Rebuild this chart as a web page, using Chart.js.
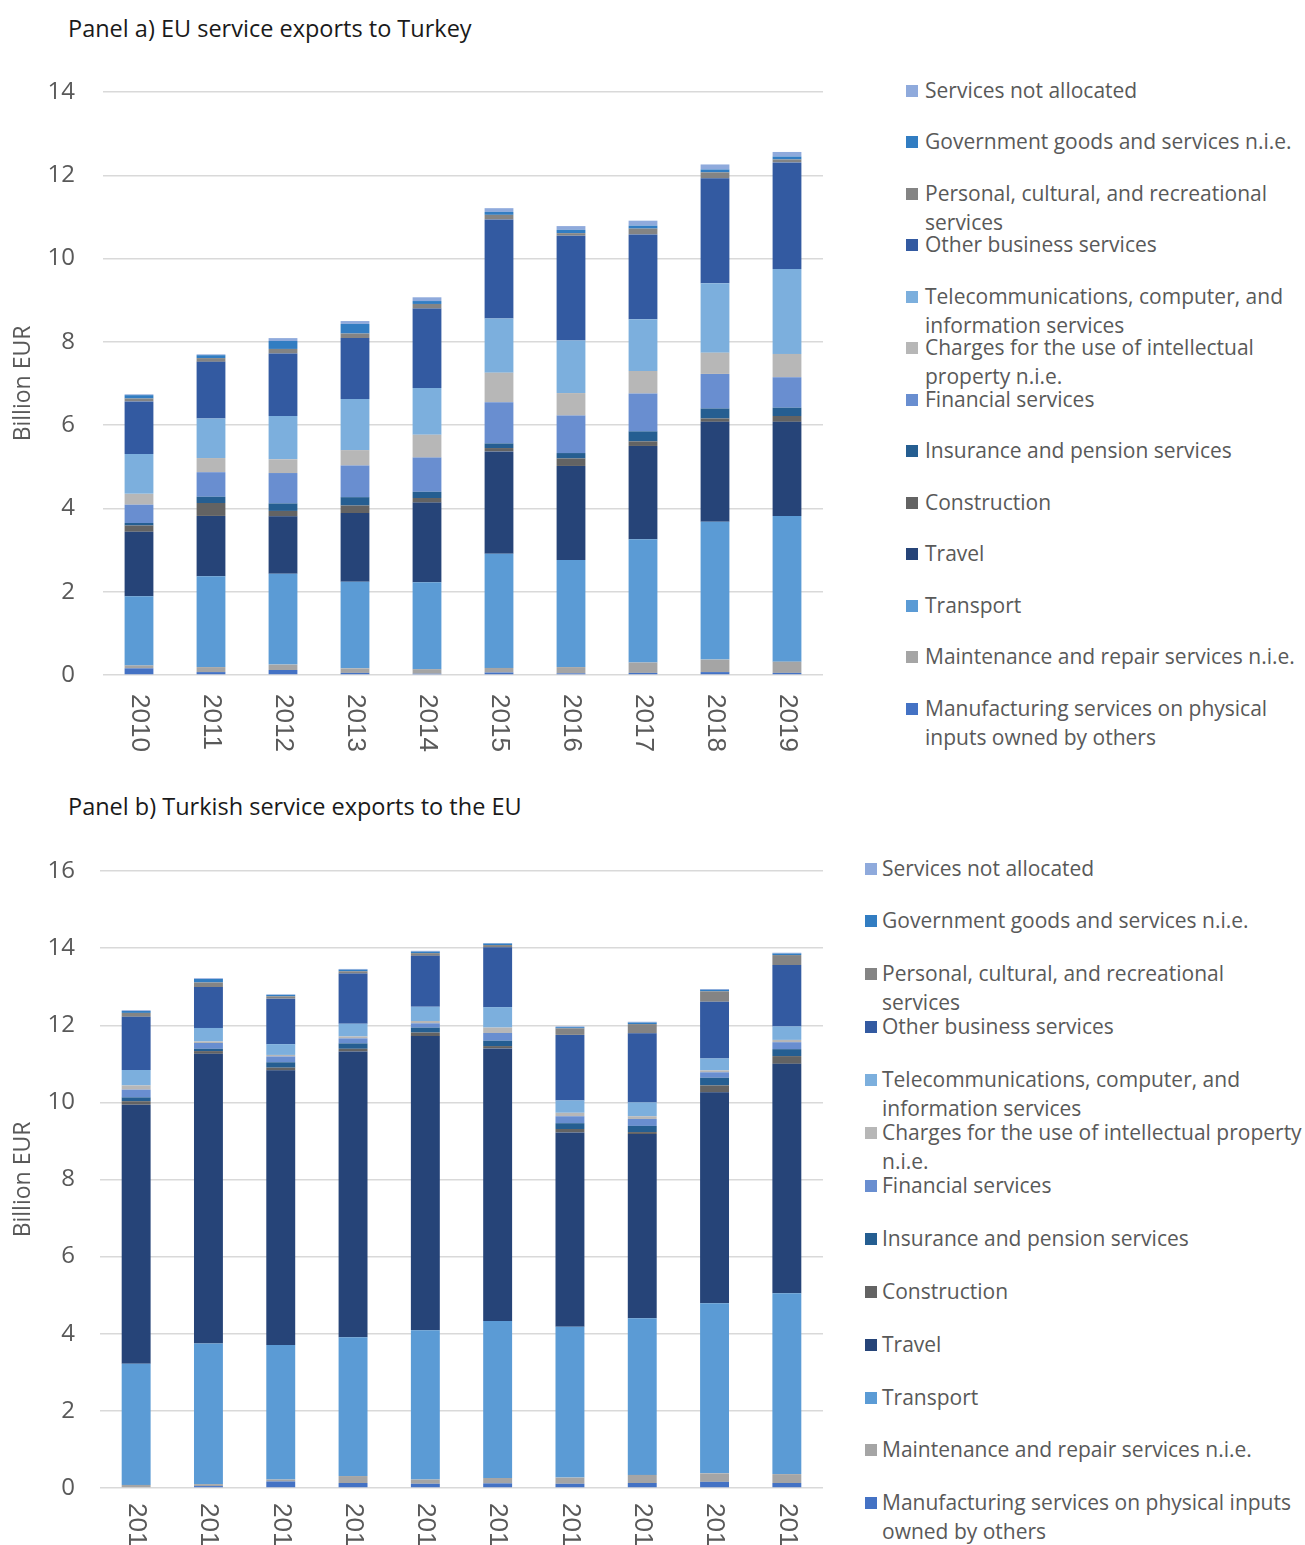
<!DOCTYPE html>
<html>
<head>
<meta charset="utf-8">
<script src="https://cdn.jsdelivr.net/npm/chart.js@4.4.1/dist/chart.umd.min.js"></script>
<style>
  body { margin: 0; width: 1305px; height: 1545px; overflow: hidden; background: #fff; font-family: 'Open Sans', sans-serif; }
  .titulo { position: absolute; left: 68px; font-size: 23.5px; line-height: 30px; color: #1a1a1a; white-space: nowrap; }
  canvas { position: absolute; left: 0; }
  .legenda { position: absolute; }
  .item { position: absolute; left: 0; font-size: 21px; line-height: 29px; color: #595959; }
  .item .marca { position: absolute; left: 0; top: 9px; width: 12px; height: 12px; }
</style>
</head>
<body>
<div class="titulo" style="top:13px">Panel a) EU service exports to Turkey</div>
<canvas id="chartA" width="840" height="720" style="top:60px"></canvas>
<div class="legenda" id="legendaA" style="left:906px; top:0"></div>

<div class="titulo" style="top:791px">Panel b) Turkish service exports to the EU</div>
<canvas id="chartB" width="840" height="705" style="top:840px"></canvas>
<div class="legenda" id="legendaB" style="left:865px; top:0"></div>

<script>
// Anos (categorias)
const anos = ['2010', '2011', '2012', '2013', '2014', '2015', '2016', '2017', '2018', '2019'];

// Nomes das séries, de baixo para cima na pilha
const series = [
    'Manufacturing services on physical inputs owned by others',
    'Maintenance and repair services n.i.e.',
    'Transport',
    'Travel',
    'Construction',
    'Insurance and pension services',
    'Financial services',
    'Charges for the use of intellectual property n.i.e.',
    'Telecommunications, computer, and information services',
    'Other business services',
    'Personal, cultural, and recreational services',
    'Government goods and services n.i.e.',
    'Services not allocated'
];

const cores = ['#4472C4', '#A5A5A5', '#5B9BD5', '#264478', '#636363', '#255E91',
    '#698ED0', '#B7B7B7', '#7CAFDD', '#335AA1', '#848484', '#327DC2', '#8FAADC'];

// Painel a) exportações da UE para a Turquia (bilhões de EUR)
const aManufacturing = [0.16, 0.07, 0.12, 0.05, 0.03, 0.06, 0.04, 0.05, 0.07, 0.05];
const aMaintenance   = [0.07, 0.12, 0.13, 0.11, 0.11, 0.11, 0.15, 0.25, 0.30, 0.27];
const aTransport     = [1.66, 2.18, 2.18, 2.08, 2.09, 2.74, 2.57, 2.96, 3.31, 3.50];
const aTravel        = [1.55, 1.45, 1.38, 1.65, 1.91, 2.46, 2.26, 2.24, 2.40, 2.26];
const aConstruction  = [0.15, 0.31, 0.13, 0.18, 0.11, 0.08, 0.18, 0.11, 0.08, 0.14];
const aInsurance     = [0.06, 0.15, 0.18, 0.20, 0.15, 0.11, 0.13, 0.24, 0.24, 0.20];
const aFinancial     = [0.44, 0.59, 0.73, 0.76, 0.82, 0.99, 0.90, 0.91, 0.83, 0.73];
const aCharges       = [0.26, 0.34, 0.33, 0.37, 0.55, 0.71, 0.54, 0.54, 0.51, 0.56];
const aTelecom       = [0.96, 0.95, 1.04, 1.23, 1.12, 1.30, 1.26, 1.24, 1.67, 2.04];
const aOtherBusiness = [1.26, 1.36, 1.50, 1.46, 1.91, 2.38, 2.52, 2.04, 2.52, 2.56];
const aPersonal      = [0.07, 0.09, 0.11, 0.11, 0.11, 0.11, 0.06, 0.14, 0.14, 0.07];
const aGovernment    = [0.08, 0.07, 0.19, 0.23, 0.07, 0.07, 0.08, 0.07, 0.07, 0.07];
const aNotAllocated  = [0.02, 0.02, 0.07, 0.07, 0.09, 0.09, 0.09, 0.12, 0.12, 0.11];

// Painel b) exportações turcas para a UE (bilhões de EUR)
const bManufacturing = [0.02, 0.05, 0.17, 0.13, 0.11, 0.12, 0.11, 0.13, 0.16, 0.13];
const bMaintenance   = [0.06, 0.05, 0.05, 0.18, 0.11, 0.14, 0.16, 0.21, 0.22, 0.23];
const bTransport     = [3.14, 3.65, 3.49, 3.60, 3.87, 4.07, 3.91, 4.06, 4.41, 4.69];
const bTravel        = [6.72, 7.51, 7.12, 7.41, 7.63, 7.07, 5.04, 4.78, 5.47, 5.95];
const bConstruction  = [0.09, 0.07, 0.07, 0.07, 0.09, 0.06, 0.09, 0.05, 0.18, 0.20];
const bInsurance     = [0.10, 0.06, 0.14, 0.14, 0.13, 0.14, 0.15, 0.16, 0.20, 0.18];
const bFinancial     = [0.20, 0.15, 0.15, 0.13, 0.11, 0.20, 0.18, 0.18, 0.14, 0.18];
const bCharges       = [0.11, 0.04, 0.04, 0.05, 0.06, 0.14, 0.09, 0.07, 0.05, 0.06];
const bTelecom       = [0.40, 0.35, 0.28, 0.33, 0.37, 0.53, 0.32, 0.36, 0.31, 0.35];
const bOtherBusiness = [1.38, 1.06, 1.18, 1.30, 1.32, 1.55, 1.70, 1.79, 1.47, 1.59];
const bPersonal      = [0.10, 0.12, 0.06, 0.06, 0.07, 0.06, 0.17, 0.24, 0.27, 0.26];
const bGovernment    = [0.05, 0.09, 0.04, 0.04, 0.04, 0.04, 0.03, 0.04, 0.04, 0.04];
const bNotAllocated  = [0.02, 0.02, 0.01, 0.02, 0.02, 0.01, 0.02, 0.02, 0.02, 0.02];

const dadosA = [aManufacturing, aMaintenance, aTransport, aTravel, aConstruction, aInsurance,
    aFinancial, aCharges, aTelecom, aOtherBusiness, aPersonal, aGovernment, aNotAllocated];
const dadosB = [bManufacturing, bMaintenance, bTransport, bTravel, bConstruction, bInsurance,
    bFinancial, bCharges, bTelecom, bOtherBusiness, bPersonal, bGovernment, bNotAllocated];

Chart.defaults.font.family = "'Open Sans', sans-serif";

// Rótulos do eixo x girados 90° no sentido horário (lidos de cima para baixo)
const rotulosX = {
    id: 'rotulosX',
    afterDraw(chart, args, opts) {
        const ctx = chart.ctx;
        const x = chart.scales.x;
        ctx.save();
        ctx.font = '26px "Liberation Sans", Arial, sans-serif';
        ctx.fillStyle = '#595959';
        ctx.textAlign = 'left';
        ctx.textBaseline = 'middle';
        x.getLabels().forEach((rotulo, i) => {
            ctx.save();
            ctx.translate(x.getPixelForValue(i), chart.chartArea.bottom + opts.offset);
            ctx.rotate(Math.PI / 2);
            ctx.fillText(rotulo, 0, 0);
            ctx.restore();
        });
        ctx.restore();
    }
};

function criarGrafico(id, dados, cfg) {
    return new Chart(document.getElementById(id), {
        type: 'bar',
        data: {
            labels: anos,
            datasets: dados.map((d, i) => ({
                label: series[i],
                data: d,
                backgroundColor: cores[i],
                borderWidth: 0,
                barPercentage: 1,
                categoryPercentage: 0.4
            }))
        },
        options: {
            responsive: false,
            animation: false,
            layout: { padding: { top: cfg.topo, right: 17, left: 0, bottom: 0 } },
            plugins: {
                legend: { display: false },
                tooltip: { enabled: false },
                rotulosX: { offset: cfg.offsetRotulo }
            },
            scales: {
                x: {
                    stacked: true,
                    grid: { display: false },
                    border: { display: false },
                    ticks: { display: false },
                    afterFit(s) { s.height = cfg.alturaX; }
                },
                y: {
                    stacked: true,
                    min: 0,
                    max: cfg.max,
                    ticks: { stepSize: 2, color: '#595959', font: { size: 24 }, padding: cfg.padTick },
                    grid: { color: '#d9d9d9', lineWidth: 1.5, drawTicks: false },
                    border: { display: false },
                    title: {
                        display: true,
                        text: 'Billion EUR',
                        color: '#595959',
                        font: { size: 23 },
                        padding: { top: 10, bottom: 0 }
                    },
                    afterFit(s) {
                        s.width = cfg.larguraY;
                        s.paddingTop = 0;
                        s.paddingBottom = 0;
                    }
                }
            }
        },
        plugins: [rotulosX]
    });
}

// Legenda em HTML, na ordem inversa da pilha
function criarLegenda(id, y0, passo, largura, recuo) {
    const el = document.getElementById(id);
    series.slice().reverse().forEach((nome, k) => {
        const i = series.length - 1 - k;
        const item = document.createElement('div');
        item.className = 'item';
        item.style.top = (y0 + k * passo - 14.5) + 'px';
        item.innerHTML = '<span class="marca" style="background:' + cores[i] + '"></span>' +
            '<div style="margin-left:' + recuo + 'px; width:' + largura + 'px">' + nome + '</div>';
        el.appendChild(item);
    });
}

function inicializar() {
    criarGrafico('chartA', dadosA, { topo: 32, max: 14, alturaX: 105, larguraY: 103, padTick: 28, offsetRotulo: 19 });
    criarGrafico('chartB', dadosB, { topo: 31, max: 16, alturaX: 57, larguraY: 100, padTick: 25, offsetRotulo: 15 });
    criarLegenda('legendaA', 90, 51.5, 380, 19);
    criarLegenda('legendaB', 868, 52.9, 422, 17);
}

inicializar();
</script>
</body>
</html>
